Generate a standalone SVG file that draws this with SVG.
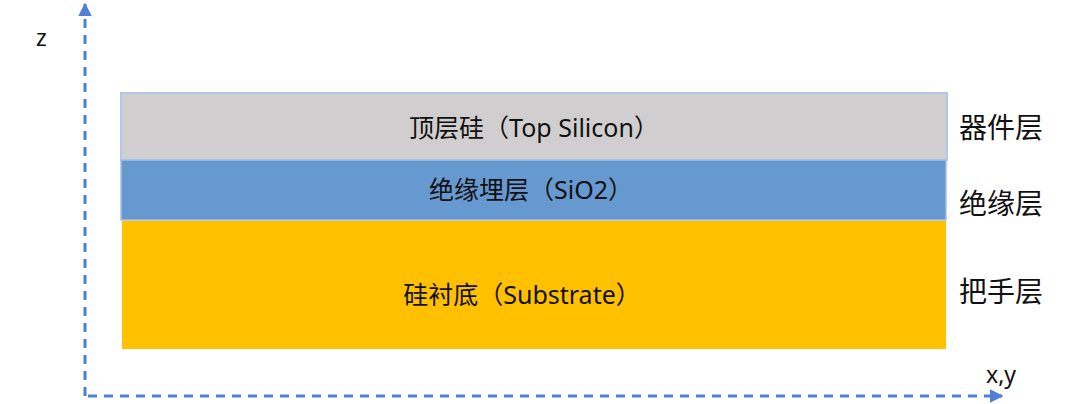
<svg xmlns="http://www.w3.org/2000/svg" width="1080" height="404" viewBox="0 0 1080 404">
<style>
.axis{stroke:#4f7fd6;stroke-width:3;stroke-dasharray:9,7;fill:none}
.lbl{font-family:"Noto Sans","Noto Sans CJK SC",sans-serif;fill:#111}
.in{font-size:25px;text-anchor:middle}
.side{font-size:28px}
</style>
<defs>
<marker id="ah" viewBox="0 0 10 10" refX="9" refY="5" markerWidth="4.5" markerHeight="4.5" orient="auto" markerUnits="strokeWidth">
<path d="M0,0 L10,5 L0,10 z" fill="#4f7fd6"/>
</marker>
</defs>
<g id="connectors">
<path class="axis" d="M85,396 L85,4" marker-end="url(#ah)"/>
<path class="axis" d="M88,396 L1002,396" marker-end="url(#ah)"/>
</g>
<g id="top-silicon">
<rect x="121" y="93" width="826" height="67" fill="#d0cecf" stroke="#b4c7e7" stroke-width="2"/>
<text class="lbl in" x="534" y="137">顶层硅（Top Silicon）</text>
</g>
<g id="sio2">
<rect x="121" y="160" width="825" height="60" fill="#6699cf" stroke="#a9bfe3" stroke-width="1.5"/>
<text class="lbl in" x="531" y="199">绝缘埋层（SiO2）</text>
</g>
<g id="substrate">
<rect x="122" y="221" width="824" height="128" fill="#ffc000"/>
<text class="lbl in" x="522" y="304">硅衬底（Substrate）</text>
</g>
<g id="labels">
<text class="lbl side" x="959" y="138">器件层</text>
<text class="lbl side" x="959" y="214">绝缘层</text>
<text class="lbl side" x="959" y="302">把手层</text>
<text class="lbl" x="36" y="46" font-size="23">z</text>
<text class="lbl" x="986" y="383" font-size="23">x,y</text>
</g>
</svg>
